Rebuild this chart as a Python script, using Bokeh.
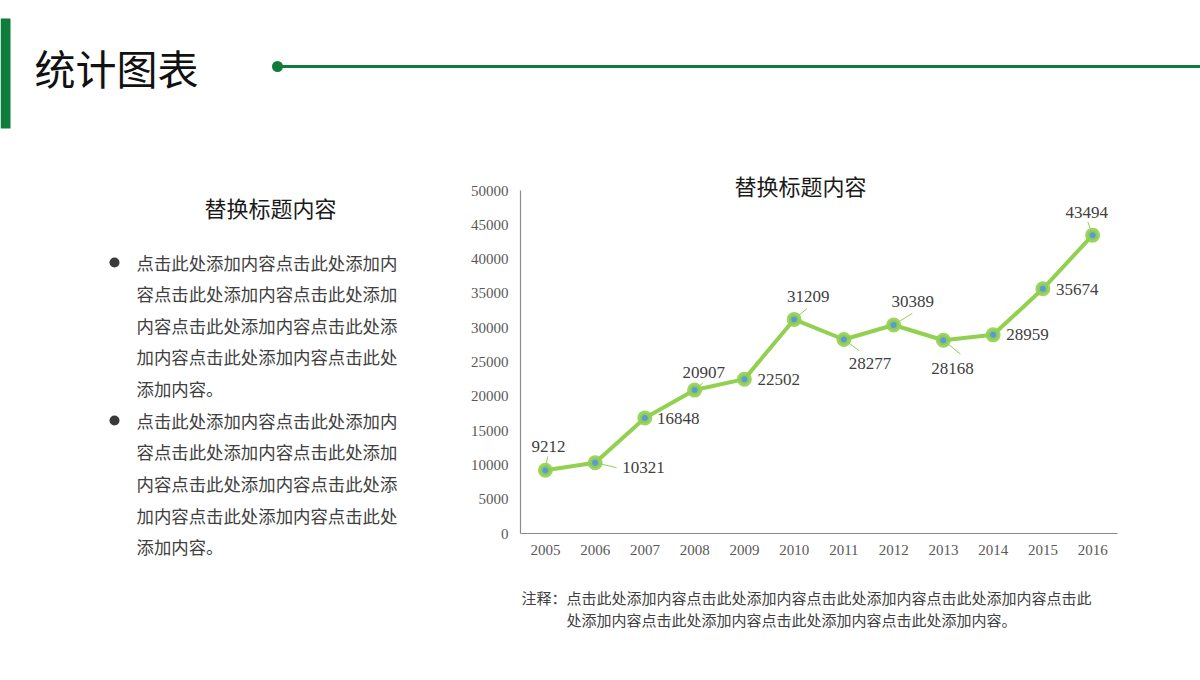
from bokeh.plotting import figure
from bokeh.layouts import column, row
from bokeh.models import Range1d, FixedTicker, Label, ColumnDataSource, CDSView, BooleanFilter
from bokeh.core.properties import value
from bokeh.embed import file_html
from bokeh.resources import INLINE

# ---------------- data ----------------
years = [2005, 2006, 2007, 2008, 2009, 2010, 2011, 2012, 2013, 2014, 2015, 2016]
values = [9212, 10321, 16848, 20907, 22502, 31209, 28277, 30389, 28168, 28959, 35674, 43494]
y_ticks = [0, 5000, 10000, 15000, 20000, 25000, 30000, 35000, 40000, 45000, 50000]

page_title = "统计图表"
side_title = "替换标题内容"
chart_title = "替换标题内容"
para_lines = [
    ["点击此处添加内容点击此处添加内", "容点击此处添加内容点击此处添加", "内容点击此处添加内容点击此处添",
     "加内容点击此处添加内容点击此处", "添加内容。"],
    ["点击此处添加内容点击此处添加内", "容点击此处添加内容点击此处添加", "内容点击此处添加内容点击此处添",
     "加内容点击此处添加内容点击此处", "添加内容。"],
]
note_head = "注释："
note_lines = ["点击此处添加内容点击此处添加内容点击此处添加内容点击此处添加内容点击此",
              "处添加内容点击此处添加内容点击此处添加内容点击此处添加内容。"]

# label placement styles (pixels) per point
lab_dx = [3, 27, 12, 9, 13, 14, 26, 19, 9, 13, 13, -6]
lab_dy = [-24, 5, 1, -18, 0, -23, 24, -24, 28, 0, 1, -23]
lab_align = ["center", "left", "left", "center", "left", "center", "center", "center", "center", "left", "left", "center"]
lead_angle_deg = [81, -13, 0, 41, 0, 40, -36, 32, -39, 0, 0, 110]
lead_len = [14, 22, 0, 11, 0, 17, 19, 22, 22, 0, 0, 14]

CJK = "Noto Sans CJK SC"
SERIF = "Liberation Serif"
DARK_GREEN = "#0E7D3C"
LIGHT_GREEN = "#92D050"
BLUE = "#5B9BD5"
TXT = "#404040"


def blank(w, h, x0, x1, y0, y1):
    f = figure(width=w, height=h, x_range=Range1d(x0, x1), y_range=Range1d(y0, y1),
               output_backend="svg", toolbar_location=None, min_border=0,
               x_axis_location=None, y_axis_location=None, frame_align=False)
    f.grid.visible = False
    f.outline_line_color = None
    f.background_fill_color = "white"
    f.border_fill_color = "white"
    return f


# ---------------- top band ----------------
top = blank(1200, 140, 0, 1200, 140, 0)
top.quad(left=0, right=10, top=18, bottom=128, color=DARK_GREEN, line_color=None)
top.segment(x0=277, y0=66, x1=1200, y1=66, line_color=DARK_GREEN, line_width=3)
top.scatter(x=[277], y=[66], size=11, color=DARK_GREEN, line_color=None)
top.text(x=[34], y=[66], text=[page_title], text_font=value(CJK), text_font_size="41px",
         text_color="#111111", text_baseline="middle", text_align="left")

# ---------------- left text block ----------------
left = blank(460, 540, 0, 460, 680, 140)
left.text(x=[270], y=[206], text=[side_title], text_font=value(CJK), text_font_size="22px",
          text_color="#1a1a1a", text_baseline="middle", text_align="center")
line_ys = [[262, 293, 325, 356, 388], [420, 451, 483, 515, 546]]
for lines, ys in zip(para_lines, line_ys):
    left.scatter(x=[114], y=[ys[0]], size=10, color="#3a3a3a", line_color=None)
    left.text(x=[136] * len(lines), y=ys, text=lines, text_font=value(CJK),
              text_font_size="17.4px", text_color=TXT, text_baseline="middle", text_align="left")

# ---------------- chart ----------------
# frame spans page y 160..533; 50000 sits at page y 190
y_top = 50000 * 373 / 343
p = figure(width=740, height=430, x_range=Range1d(2004.5, 2016.5), y_range=Range1d(0, y_top),
           output_backend="svg", toolbar_location=None, frame_align=False,
           min_border_left=60, min_border_right=83, min_border_top=20, min_border_bottom=37)
p.grid.visible = False
p.outline_line_color = None
p.background_fill_color = "white"
p.border_fill_color = "white"

p.xaxis.ticker = FixedTicker(ticks=years)
p.yaxis.ticker = FixedTicker(ticks=y_ticks)
p.yaxis.bounds = (y_ticks[0], y_ticks[-1])
for ax in (p.xaxis[0], p.yaxis[0]):
    ax.axis_line_color = "#8c8c8c"
    ax.axis_line_width = 1.2
    ax.major_tick_line_color = None
    ax.minor_tick_line_color = None
    ax.major_tick_out = 0
    ax.major_tick_in = 0
    ax.minor_tick_out = 0
    ax.major_label_text_font = SERIF
    ax.major_label_text_font_size = "15px"
    ax.major_label_text_color = "#595959"
p.xaxis.major_label_standoff = 11
p.yaxis.major_label_standoff = 12

src = ColumnDataSource(dict(x=years, y=values, txt=[str(v) for v in values],
                            dx=lab_dx, dy=lab_dy, align=lab_align,
                            ang=[a * 3.14159265 / 180 for a in lead_angle_deg], ln=lead_len))
lead_view = CDSView(filter=BooleanFilter([l > 0 for l in lead_len]))

p.ray(x="x", y="y", length="ln", angle="ang", length_units="screen", source=src, view=lead_view,
      line_color=LIGHT_GREEN, line_width=1)
p.line(x="x", y="y", source=src, line_color=LIGHT_GREEN, line_width=4)
p.scatter(x="x", y="y", source=src, size=10.5, fill_color=BLUE, line_color=LIGHT_GREEN,
          line_width=4.5, line_alpha=0.9)
p.text(x="x", y="y", text="txt", x_offset="dx", y_offset="dy", text_align="align", source=src,
       text_font=value(SERIF), text_font_size="17px", text_color=TXT, text_baseline="middle")

p.add_layout(Label(x=280, y=349, x_units="screen", y_units="screen", text=chart_title,
                   text_font=CJK, text_font_size="22px", text_color="#1a1a1a",
                   text_align="center", text_baseline="middle"))

# ---------------- note ----------------
note = blank(740, 110, 460, 1200, 680, 570)
note.text(x=[521], y=[597], text=[note_head], text_font=value(CJK), text_font_size="15px",
          text_color=TXT, text_baseline="middle", text_align="left")
note.text(x=[566, 566], y=[597, 619], text=note_lines, text_font=value(CJK), text_font_size="15px",
          text_color=TXT, text_baseline="middle", text_align="left")

layout = column(top, row(left, column(p, note, spacing=0), spacing=0), spacing=0)
open("out.html", "w").write(file_html(layout, INLINE))
